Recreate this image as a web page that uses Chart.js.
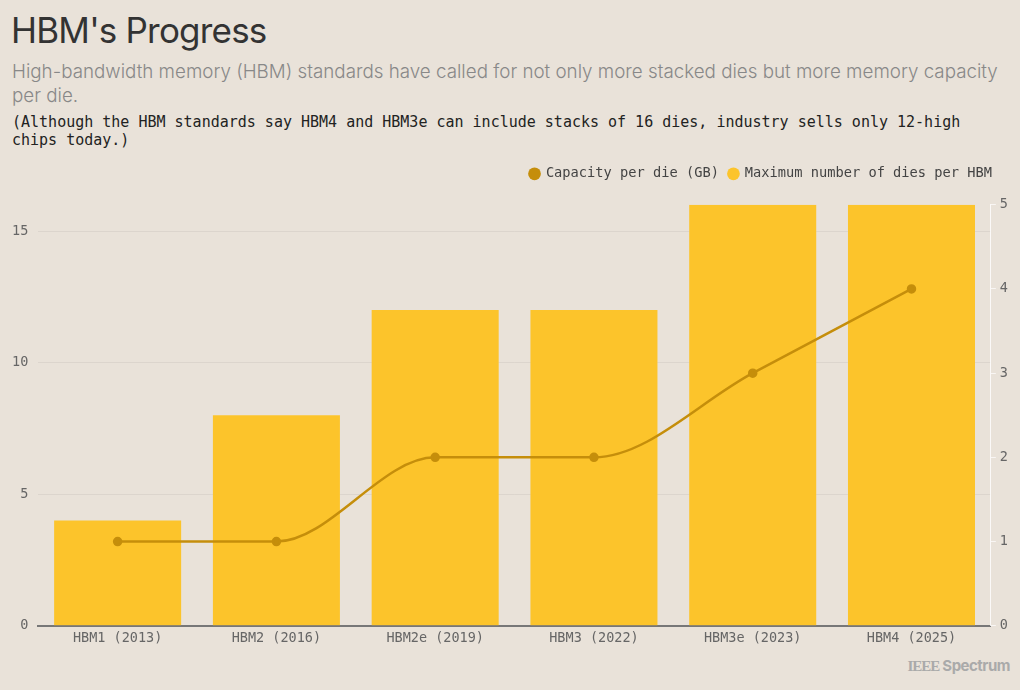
<!DOCTYPE html>
<html>
<head>
<meta charset="utf-8">
<script src="https://cdn.jsdelivr.net/npm/chart.js@4.4.1/dist/chart.umd.min.js"></script>
<style>
  html, body { margin: 0; padding: 0; background: #e9e2d9; }
  body { width: 1020px; height: 690px; position: relative; overflow: hidden; font-family: Inter, "Noto Sans", sans-serif; }
  h1 { position: absolute; left: 11px; top: 9px; margin: 0; font-size: 35px; font-weight: 400; color: #333; letter-spacing: -0.8px; }
  .sub { position: absolute; left: 12px; top: 60px; width: 1000px; margin: 0; font-size: 18.8px; line-height: 24px; color: #888; font-weight: 300; }
  .note { position: absolute; left: 12px; top: 113px; width: 1000px; margin: 0; font-family: "DejaVu Sans Mono", monospace; font-size: 15px; line-height: 18px; color: #222; }
  .chart-box { position: absolute; left: 0; top: 157px; width: 1020px; height: 495px; }
  .footer { position: absolute; right: 10px; top: 656px; font-size: 15px; font-weight: 700; color: #aaa; letter-spacing: -0.5px; }
  .footer .ieee { font-family: "Liberation Serif", serif; font-weight: 700; letter-spacing: -1px; }
</style>
</head>
<body>
<h1>HBM's Progress</h1>
<p class="sub">High-bandwidth memory (HBM) standards have called for not only more stacked dies but more memory capacity per die.</p>
<p class="note">(Although the HBM standards say HBM4 and HBM3e can include stacks of 16 dies, industry sells only 12-high chips today.)</p>
<div class="chart-box"><canvas id="hbm"></canvas></div>
<div class="footer"><span class="ieee">IEEE</span> Spectrum</div>

<script>
// data
const generations = ['HBM1 (2013)', 'HBM2 (2016)', 'HBM2e (2019)', 'HBM3 (2022)', 'HBM3e (2023)', 'HBM4 (2025)'];
const capacityPerDie = [1, 1, 2, 2, 3, 4];
const maxDies = [4, 8, 12, 12, 16, 16];
const leftTicks = [0, 5, 10, 15];
const rightTicks = [0, 1, 2, 3, 4, 5];

const mono = "'DejaVu Sans Mono', monospace";

// extra room under the legend, and pull it in line with the right axis
const legendTweak = {
  id: 'legendTweak',
  beforeLayout(chart) {
    const lg = chart.legend;
    if (lg && !lg._patched) {
      const fit = lg.fit;
      lg.fit = function() {
        fit.call(this);
        this.height += 14;
      };
      lg._patched = true;
    }
  },
  afterLayout(chart) {
    if (chart.legend) chart.legend.right -= 10;
  }
};

new Chart(document.getElementById('hbm'), {
  data: {
    labels: generations,
    datasets: [
      {
        type: 'line',
        label: 'Capacity per die (GB)',
        data: capacityPerDie,
        yAxisID: 'yRight',
        borderColor: '#c58e0b',
        backgroundColor: '#c58e0b',
        borderWidth: 2.5,
        pointRadius: 3.5,
        pointStyle: 'circle',
        cubicInterpolationMode: 'monotone',
        order: 0
      },
      {
        type: 'bar',
        label: 'Maximum number of dies per HBM',
        data: maxDies,
        yAxisID: 'yLeft',
        backgroundColor: '#fcc42b',
        pointStyle: 'circle',
        categoryPercentage: 0.8,
        barPercentage: 1,
        order: 1
      }
    ]
  },
  options: {
    responsive: true,
    maintainAspectRatio: false,
    animation: false,
    layout: { padding: { left: 2, right: 8, top: 0, bottom: 0 } },
    plugins: {
      legend: {
        position: 'top',
        align: 'end',
        labels: {
          usePointStyle: true,
          boxWidth: 9,
          boxHeight: 9,
          padding: 10,
          color: '#444',
          font: { family: mono, size: 13.7 },
          generateLabels(chart) {
            const items = Chart.defaults.plugins.legend.labels.generateLabels(chart);
            items.forEach(function(it) { it.lineWidth = 0; });
            return items;
          }
        }
      },
      tooltip: { enabled: false }
    },
    scales: {
      x: {
        grid: { display: false, drawTicks: false },
        border: { color: '#777', width: 2 },
        ticks: { color: '#666', font: { family: mono, size: 13.5 }, padding: 5 }
      },
      yLeft: {
        position: 'left',
        min: 0,
        max: 16,
        afterBuildTicks(axis) {
          axis.ticks = leftTicks.map(function(v) { return { value: v }; });
        },
        grid: { color: 'rgba(0,0,0,0.055)', drawTicks: false },
        border: { display: false },
        ticks: { color: '#666', font: { family: mono, size: 13.5 }, padding: 10 }
      },
      yRight: {
        position: 'right',
        min: 0,
        max: 5,
        afterBuildTicks(axis) {
          axis.ticks = rightTicks.map(function(v) { return { value: v }; });
        },
        grid: { drawOnChartArea: false, color: 'rgba(255,255,255,0.7)', tickLength: 5 },
        border: { color: 'rgba(255,255,255,0.8)', width: 1 },
        ticks: { color: '#666', font: { family: mono, size: 13.5 }, padding: 4 }
      }
    }
  },
  plugins: [legendTweak]
});
</script>
</body>
</html>
